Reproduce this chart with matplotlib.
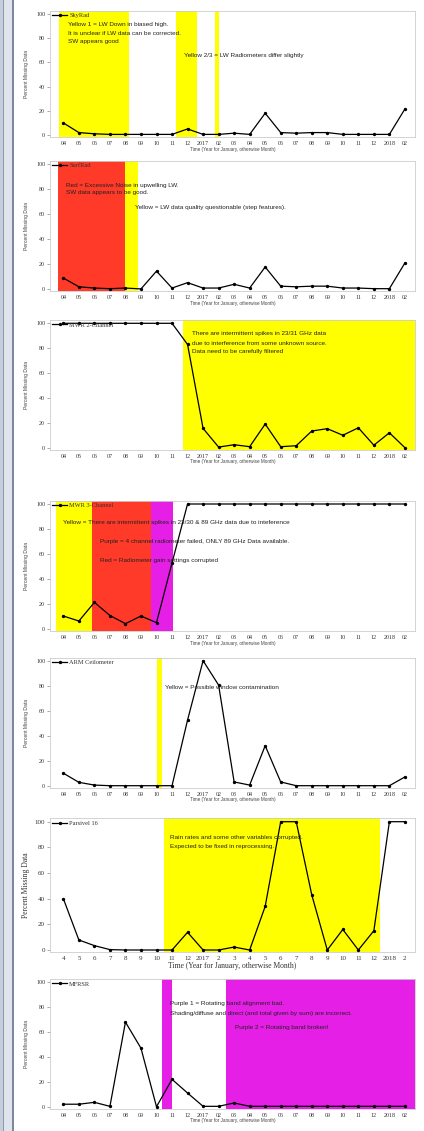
import matplotlib
matplotlib.use("Agg")
import matplotlib.pyplot as plt
from matplotlib.lines import Line2D
from matplotlib.patches import Rectangle

W, H = 424, 1131
DPI = 100

labels = ['04', '05', '06', '07', '08', '09', '10', '11', '12', '2017', '02', '03',
          '04', '05', '06', '07', '08', '09', '10', '11', '12', '2018', '02']
labels_parsivel = ['4', '5', '6', '7', '8', '9', '10', '11', '12', '2017', '2', '3',
                   '4', '5', '6', '7', '8', '9', '10', '11', '12', '2018', '2']

skyrad = [10, 2, 1, 0.5, 0.5, 0.5, 0.5, 0.5, 5, 0.5, 0.5, 1.5, 0.5, 18, 2, 1.5, 2, 2, 0.5, 0.5, 0.5, 0.5, 21.5]
surfrad = [9, 2, 1, 0.5, 1, 0.3, 14.5, 1, 5.3, 1, 1, 4, 1, 17.8, 2.5, 2, 2.5, 2.5, 1, 1, 0.5, 0.5, 21]
mwr2 = [100, 100, 100, 100, 100, 100, 100, 100, 83, 15.5, 0.5, 2.4, 0.8, 19, 0.8, 1.6, 13.4, 15.3, 10, 16, 2, 12, 0]
mwr3 = [10.6, 6.6, 21.5, 11, 4.5, 10.6, 5.3, 53, 100, 100, 100, 100, 100, 100, 100, 100, 100, 100, 100, 100, 100, 100, 100]
ceil = [10, 2.7, 0.5, 0, 0, 0, 0, 0, 52.5, 100, 80.5, 3, 0.5, 32, 3, 0, 0, 0, 0, 0, 0, 0, 7]
parsivel = [40, 7.8, 3.4, 0.3, 0, 0, 0, 0, 13.8, 0, 0, 2.3, 0, 34, 100, 100, 43, 0, 16, 0, 15, 100, 100]
mfrsr = [2, 2, 3.5, 0.3, 68, 47, 0, 22, 11, 0.3, 0.3, 3, 0.3, 0.3, 0.3, 0.3, 0.3, 0.3, 0.3, 0.3, 0.3, 0.3, 0.3]

YEL = '#ffff00'
RED = '#ff3a28'
MAG = '#e51fe5'

# (name, values, labels, spans, texts, y100 px, y0 px, parsivel-style)
panels = [
    ("SkyRad", skyrad, labels,
     [(-0.25, 4.2, YEL), (7.25, 8.6, YEL), (9.75, 10.0, YEL)],
     [(0.32, 91, "Yellow 1 = LW Down in biased high."),
      (0.32, 84, "It is unclear if LW data can be corrected."),
      (0.32, 77.5, "SW appears good"),
      (7.8, 66, "Yellow 2/3 = LW Radiometers differ slightly")],
     14, 135, False),
    ("SurfRad", surfrad, labels,
     [(-0.32, 3.97, RED), (3.97, 4.83, YEL)],
     [(0.2, 83, "Red = Excessive Noise in upwelling LW."),
      (0.2, 77, "SW data appears to be good."),
      (4.6, 65, "Yellow = LW data quality questionable (step features).")],
     164, 289.3, False),
    ("MWR 2-Channel", mwr2, labels,
     [(7.73, 22.65, YEL)],
     [(8.3, 91.4, "There are intermittent spikes in 23/31 GHz data"),
      (8.3, 84, "due to interference from some unknown source."),
      (8.3, 77, "Data need to be carefully filtered")],
     323.3, 447.7, False),
    ("MWR 3-Channel", mwr3, labels,
     [(-0.5, 1.82, YEL), (1.82, 5.64, RED), (5.64, 7.08, MAG)],
     [(0.0, 85, "Yellow = There are intermittent spikes in 23/30 & 89 GHz data due to inteference"),
      (2.35, 70, "Purple = 4 channel radiometer failed, ONLY 89 GHz Data available."),
      (2.35, 55, "Red = Radiometer gain settings corrupted")],
     504, 629.3, False),
    ("ARM Ceilometer", ceil, labels,
     [(6.0, 6.33, YEL)],
     [(6.55, 78.7, "Yellow = Possible window contamination")],
     660.7, 785.7, False),
    ("Parsivel 16", parsivel, labels_parsivel,
     [(6.46, 20.4, YEL)],
     [(6.9, 88, "Rain rates and some other variables corrupted."),
      (6.9, 80.5, "Expected to be fixed in reprocessing.")],
     821.7, 950, True),
    ("MFRSR", mfrsr, labels,
     [(6.33, 6.97, MAG), (10.5, 22.65, MAG)],
     [(6.87, 83, "Purple 1 = Rotating band alignment bad."),
      (6.87, 75, "Shading/diffuse and direct (and total given by sum) are incorrect."),
      (11.05, 64, "Purple 2 = Rotating band broken!")],
     982.3, 1106.7, False),
]

fig = plt.figure(figsize=(W / DPI, H / DPI), dpi=DPI)
fig.patch.set_facecolor('white')

# window border on the left
fig.add_artist(Rectangle((0, 0), 3 / W, 1, transform=fig.transFigure, color='#c5cedb', lw=0))
fig.add_artist(Rectangle((3 / W, 0), 1.3 / W, 1, transform=fig.transFigure, color='#8e9ab0', lw=0))
fig.add_artist(Rectangle((4.3 / W, 0), 8 / W, 1, transform=fig.transFigure, color='#dfe3ec', lw=0))
fig.add_artist(Rectangle((12.3 / W, 0), 1.7 / W, 1, transform=fig.transFigure, color='#7d889e', lw=0))

SERIF = ['Liberation Serif', 'DejaVu Serif']
SANS = ['Liberation Sans', 'DejaVu Sans']
XL, XR = -0.86, 22.65
YLO, YHI = -1.5, 102.5
left_px, right_px = 50, 415

for name, vals, tl, spans, texts, y100, y0, big in panels:
    s = (y0 - y100) / 100.0
    top = y100 - (YHI - 100) * s
    bot = y0 - YLO * s
    ax = fig.add_axes([left_px / W, 1 - bot / H, (right_px - left_px) / W, (bot - top) / H])
    ax.set_xlim(XL, XR)
    ax.set_ylim(YLO, YHI)
    for a, b, c in spans:
        ax.axvspan(a, b, color=c, lw=0, zorder=0)
    x = list(range(len(vals)))
    ax.plot(x, vals, color='black', lw=0.9, marker='o', ms=1.4, zorder=3, label=name)
    for tx, ty, t in texts:
        ax.text(tx, ty, t, fontsize=4.6, family=SANS, color='#222222', va='center', zorder=4)
    ax.set_xticks(x)
    ax.set_yticks([0, 20, 40, 60, 80, 100])
    tfs = 5.0 if big else 4.3
    ax.set_xticklabels(tl, fontsize=tfs, family=SERIF, color='#333333')
    ax.set_yticklabels(['0', '20', '40', '60', '80', '100'], fontsize=tfs, family=SERIF, color='#333333')
    ax.tick_params(axis='x', length=0, pad=3)
    ax.tick_params(axis='y', length=2, width=0.5, pad=1.5, color='#888888')
    for sp in ax.spines.values():
        sp.set_color('#cccccc')
        sp.set_linewidth(0.6)
    if big:
        ax.set_ylabel('Percent Missing Data', fontsize=5.5, family=SERIF, color='#333333', labelpad=3)
        ax.set_xlabel('Time (Year for January, otherwise Month)', fontsize=5.5, family=SERIF,
                      color='#333333', labelpad=1)
    else:
        ax.set_ylabel('Percent Missing Data', fontsize=3.6, family=SANS, color='#444444', labelpad=5)
        ax.set_xlabel('Time (Year for January, otherwise Month)', fontsize=3.3, family=SANS,
                      color='#444444', labelpad=0.5)
    leg = ax.legend(loc='upper left', frameon=False, fontsize=4.6, handlelength=2.4,
                    handletextpad=0.3, borderaxespad=0.1, borderpad=0.2,
                    prop={'family': SERIF, 'size': 4.6})
    for t in leg.get_texts():
        t.set_color('#333333')

fig.savefig('out.png', dpi=DPI, facecolor='white')
